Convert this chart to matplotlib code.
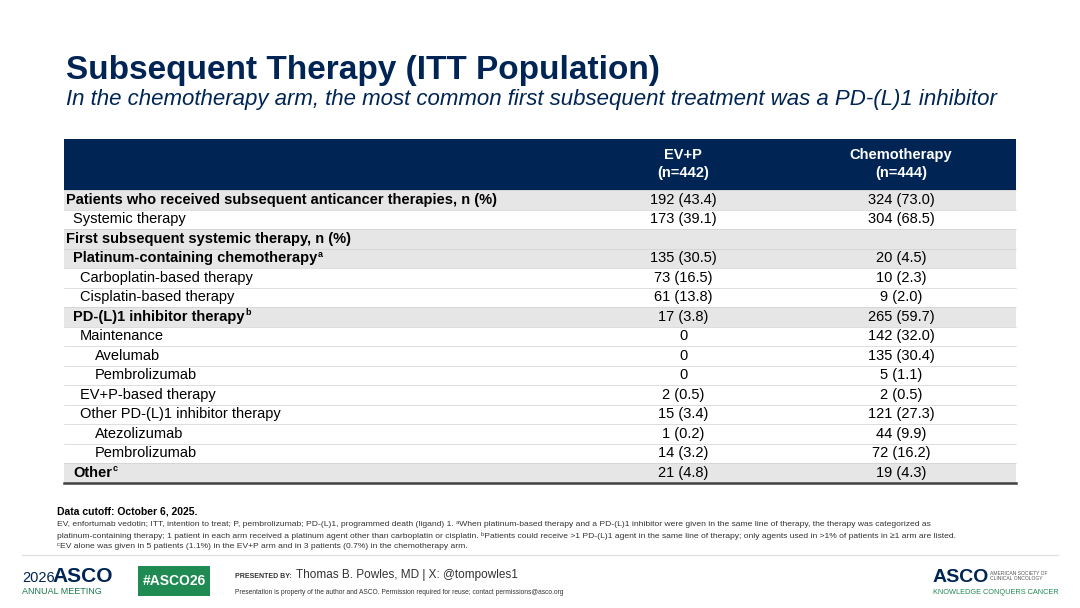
import matplotlib
matplotlib.use("Agg")
import matplotlib.pyplot as plt
from matplotlib.patches import Rectangle

plt.rcParams['font.family'] = ['Liberation Sans', 'DejaVu Sans']

labels = ["Patients who received subsequent anticancer therapies, n (%)", "Systemic therapy",
          "First subsequent systemic therapy, n (%)", "Platinum-containing chemotherapy",
          "Carboplatin-based therapy", "Cisplatin-based therapy", "PD-(L)1 inhibitor therapy",
          "Maintenance", "Avelumab", "Pembrolizumab", "EV+P-based therapy", "Other PD-(L)1 inhibitor therapy",
          "Atezolizumab", "Pembrolizumab", "Other"]
sups = ["", "", "", "a", "", "", "b", "", "", "", "", "", "", "", "c"]
levels = [0, 1, 0, 1, 2, 2, 1, 2, 3, 3, 2, 2, 3, 3, 1]
bold = [1, 0, 1, 1, 0, 0, 1, 0, 0, 0, 0, 0, 0, 0, 1]
grey = [1, 0, 1, 1, 0, 0, 1, 0, 0, 0, 0, 0, 0, 0, 1]
evp = ["192 (43.4)", "173 (39.1)", "", "135 (30.5)", "73 (16.5)", "61 (13.8)", "17 (3.8)", "0", "0", "0",
       "2 (0.5)", "15 (3.4)", "1 (0.2)", "14 (3.2)", "21 (4.8)"]
chemo = ["324 (73.0)", "304 (68.5)", "", "20 (4.5)", "10 (2.3)", "9 (2.0)", "265 (59.7)", "142 (32.0)",
         "135 (30.4)", "5 (1.1)", "2 (0.5)", "121 (27.3)", "44 (9.9)", "72 (16.2)", "19 (4.3)"]
col_heads = ["EV+P\n(n=442)", "Chemotherapy\n(n=444)"]

fig = plt.figure(figsize=(10.8, 6.08), dpi=100)
ax = fig.add_axes([0, 0, 1, 1])
ax.set_xlim(0, 1080); ax.set_ylim(608, 0); ax.axis('off')
navy = '#002554'

ax.text(66, 70, "Subsequent Therapy (ITT Population)", fontsize=24, fontweight='bold', color=navy, va='center')
ax.text(66, 100, "In the chemotherapy arm, the most common first subsequent treatment was a PD-(L)1 inhibitor",
        fontsize=16, style='italic', color=navy, va='center')

L, R = 64, 1016
ax.add_patch(Rectangle((L, 139), R - L, 51, color=navy, lw=0))
cx = [683, 901]
for x, h in zip(cx, col_heads):
    ax.text(x, 164, h, color='white', fontsize=10.5, fontweight='bold', ha='center', va='center', linespacing=1.3)

top, rh = 190, 19.5
indent = [66, 73, 80, 95]
for i, lab in enumerate(labels):
    y0 = top + i * rh
    if grey[i]:
        ax.add_patch(Rectangle((L, y0), R - L, rh, color='#e6e6e6', lw=0))
    ax.plot([L, R], [y0, y0], color='#d0d0d0', lw=0.5)
    yc = y0 + rh / 2
    fw = 'bold' if bold[i] else 'normal'
    t = ax.text(indent[levels[i]], yc, lab, fontsize=10.5, fontweight=fw, va='center', color='black')
    if sups[i]:
        fig.canvas.draw() if i == 3 else None
        bb = t.get_window_extent(renderer=fig.canvas.get_renderer())
        ax.text(bb.x1 / 1 + 0.5, yc - 4, sups[i], fontsize=6.5, fontweight='bold', va='center')
    ax.text(cx[0], yc, evp[i], fontsize=10.5, ha='center', va='center')
    ax.text(cx[1], yc, chemo[i], fontsize=10.5, ha='center', va='center')
yb = top + len(labels) * rh
ax.plot([L, R], [yb, yb], color='#404040', lw=1.8)

ax.text(57, 512, "Data cutoff: October 6, 2025.", fontsize=7.5, fontweight='bold', va='center')
foot = ["EV, enfortumab vedotin; ITT, intention to treat; P, pembrolizumab; PD-(L)1, programmed death (ligand) 1. \u1d43When platinum-based therapy and a PD-(L)1 inhibitor were given in the same line of therapy, the therapy was categorized as",
        "platinum-containing therapy; 1 patient in each arm received a platinum agent other than carboplatin or cisplatin. \u1d47Patients could receive >1 PD-(L)1 agent in the same line of therapy; only agents used in >1% of patients in \u22651 arm are listed.",
        "\u1d9cEV alone was given in 5 patients (1.1%) in the EV+P arm and in 3 patients (0.7%) in the chemotherapy arm."]
for k, line in enumerate(foot):
    ax.text(57, 525 + k * 11, line, fontsize=6.1, va='center', color='#333333')
ax.plot([22, 1058], [555, 555], color='#dddddd', lw=0.8)

ax.text(22, 578, "2026", fontsize=10.5, color=navy, va='center')
ax.text(52, 577, "ASCO", fontsize=15, fontweight='bold', color=navy, va='center')
ax.text(22, 591, "ANNUAL MEETING", fontsize=6.5, color='#1a7a4c', va='center')
ax.add_patch(Rectangle((138, 566), 72, 30, color='#1f8a52', lw=0))
ax.text(174, 581, "#ASCO26", fontsize=10, fontweight='bold', color='white', ha='center', va='center')
ax.text(235, 576, "PRESENTED BY:", fontsize=5, fontweight='bold', color='#333333', va='center')
ax.text(296, 575, "Thomas B. Powles, MD | X: @tompowles1", fontsize=8.5, color='#333333', va='center')
ax.text(235, 592, "Presentation is property of the author and ASCO. Permission required for reuse; contact permissions@asco.org",
        fontsize=4.8, color='#333333', va='center')
ax.text(933, 577, "ASCO", fontsize=14, fontweight='bold', color=navy, va='center')
ax.text(990, 576, "AMERICAN SOCIETY OF\nCLINICAL ONCOLOGY", fontsize=3.6, color='#555555', va='center')
ax.text(933, 592, "KNOWLEDGE CONQUERS CANCER", fontsize=5.3, color='#1f8a52', va='center')

fig.savefig("out.png", dpi=100)
